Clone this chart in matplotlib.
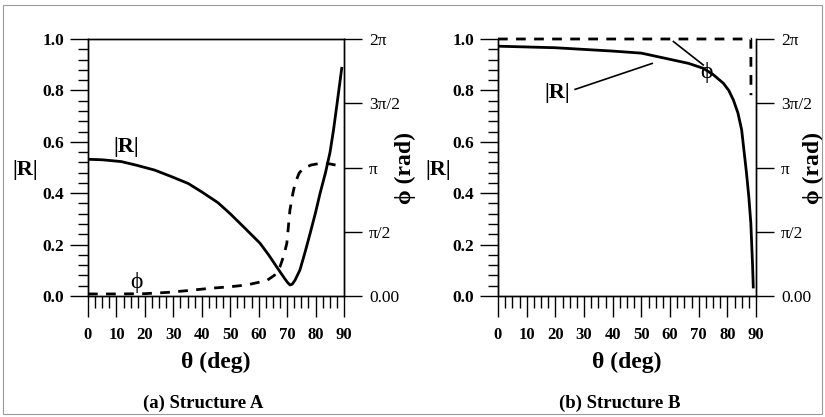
import numpy as np
import matplotlib
matplotlib.use("Agg")
import matplotlib.pyplot as plt
from matplotlib.ticker import MultipleLocator
from matplotlib.patches import Rectangle

plt.rcParams['font.family'] = ['Liberation Serif', 'DejaVu Serif']

# Structure A: |R| and phase versus incidence angle
thetaA_R = [0, 5, 11.7, 17, 23.4, 29, 35.2, 40, 45.7, 50, 54.6, 60.5, 63.5, 66.3,
            69.0, 70.2, 71.0, 71.8, 72.8, 74.5, 76.3, 78.1, 80, 81.6, 83.5, 85.1,
            86.3, 87.7, 89.2]
RA = [0.532, 0.530, 0.523, 0.509, 0.490, 0.466, 0.438, 0.405, 0.363, 0.320, 0.270,
      0.205, 0.160, 0.114, 0.070, 0.052, 0.043, 0.046, 0.062, 0.101, 0.170, 0.244,
      0.325, 0.400, 0.480, 0.560, 0.645, 0.760, 0.886]
thetaA_ph = [0, 10, 20, 28, 35, 42.9, 50, 55.8, 62.8, 65.5, 67.5, 68.8, 69.9, 71.0,
             72.0, 72.8, 74.2, 75.7, 78.5, 81.6, 85, 88.6]
phA = [0.050, 0.050, 0.057, 0.088, 0.132, 0.188, 0.226, 0.270, 0.377, 0.503,
       0.716, 0.980, 1.288, 2.105, 2.500, 2.752, 3.003, 3.123, 3.204, 3.242,
       3.230, 3.179]

# Structure B
thetaB_R = [0, 20, 40, 50, 61.2, 66.5, 71.6, 75, 78.6, 80.5, 82.1, 83.7, 85.0,
            86.7, 87.5, 88.2, 88.8, 89.05]
RB = [0.972, 0.966, 0.953, 0.945, 0.918, 0.905, 0.886, 0.862, 0.828, 0.800,
      0.763, 0.712, 0.646, 0.477, 0.385, 0.283, 0.120, 0.035]
thetaB_ph = [0, 88.2, 88.25]
phB = [2 * np.pi, 2 * np.pi, 4.91]

xticks = list(range(0, 91, 10))
yticks = [0.0, 0.2, 0.4, 0.6, 0.8, 1.0]
phticks = [0, np.pi / 2, np.pi, 3 * np.pi / 2, 2 * np.pi]
phlabels = ['0.00', 'π/2', 'π', '3π/2', '2π']

DASH = (0, (3.5, 3))


def setup(ax, top_spine):
    ax.set_xlim(0, 90)
    ax.set_ylim(0, 1)
    ax.set_xticks(xticks)
    ax.set_yticks(yticks)
    ax.set_xticklabels([str(v) for v in xticks], fontweight='bold', fontsize=12)
    ax.set_yticklabels(['%.1f' % v for v in yticks], fontweight='bold', fontsize=12.5)
    ax.xaxis.set_minor_locator(MultipleLocator(2.5))
    ax.yaxis.set_minor_locator(MultipleLocator(0.04))
    ax.tick_params(axis='x', which='major', direction='out', length=15, width=1, pad=7)
    ax.tick_params(axis='x', which='minor', direction='out', length=8.5, width=1)
    ax.tick_params(axis='y', which='major', direction='out', length=13, width=1, pad=4)
    ax.tick_params(axis='y', which='minor', direction='out', length=7, width=1)
    for s in ax.spines.values():
        s.set_linewidth(1)
    ax.spines['top'].set_visible(top_spine)
    ax2 = ax.twinx()
    ax2.set_ylim(0, 2 * np.pi)
    ax2.set_yticks(phticks)
    ax2.set_yticklabels(phlabels, fontsize=12.5)
    ax2.tick_params(axis='y', direction='out', length=13, width=1, pad=5)
    for s in ax2.spines.values():
        s.set_linewidth(1)
    ax2.spines['top'].set_visible(top_spine)
    ax.set_xlabel('θ (deg)', fontsize=17, fontweight='bold', va='center')
    ax.xaxis.set_label_coords(0.5, -0.257)
    return ax2


fig = plt.figure(figsize=(8.25, 4.17), dpi=100)
bot = 1 - 296 / 417
h = 257 / 417
axA = fig.add_axes([88 / 825, bot, 256 / 825, h])
axB = fig.add_axes([498 / 825, bot, 258 / 825, h])

# panel (a)
axA2 = setup(axA, True)
axA.plot(thetaA_R, RA, color='black', lw=2)
axA2.plot(thetaA_ph, phA, color='black', lw=2, linestyle=DASH)
axA.text(-0.246, 0.49, '|R|', transform=axA.transAxes, fontsize=16,
         fontweight='bold', ha='center', va='center')
axA.text(1.238, 0.5, 'ϕ (rad)', transform=axA.transAxes, fontsize=17,
         fontweight='bold', ha='center', va='center', rotation=90)
axA.text(13.3, 0.578, '|R|', fontsize=16, fontweight='bold', ha='center', va='center')
axA.text(17.0, 0.053, 'ϕ', fontsize=17, ha='center', va='center')
axA.text(0.449, -0.416, '(a) Structure A', transform=axA.transAxes, fontsize=13.5,
         fontweight='bold', ha='center', va='center')

# panel (b)
axB2 = setup(axB, False)
axB.plot(thetaB_R, RB, color='black', lw=2)
axB2.plot(thetaB_ph, phB, color='black', lw=2, linestyle=DASH, clip_on=False)
axB.text(-0.233, 0.49, '|R|', transform=axB.transAxes, fontsize=16,
         fontweight='bold', ha='center', va='center')
axB.text(1.221, 0.5, 'ϕ (rad)', transform=axB.transAxes, fontsize=17,
         fontweight='bold', ha='center', va='center', rotation=90)
axB.text(20.6, 0.79, '|R|', fontsize=16, fontweight='bold', ha='center', va='center')
axB.plot([26.9, 53.8], [0.804, 0.905], color='black', lw=1.2)
axB.text(72.8, 0.870, 'ϕ', fontsize=17, ha='center', va='center')
axB.plot([61.2, 71.6], [0.99, 0.899], color='black', lw=1.2)
axB.text(0.473, -0.416, '(b) Structure B', transform=axB.transAxes, fontsize=13.5,
         fontweight='bold', ha='center', va='center')

fig.patches.append(Rectangle((0.004, 0.008), 0.992, 0.98, transform=fig.transFigure,
                             fill=False, ec='#9a9a9a', lw=0.8))

fig.savefig('out.png', dpi=100)
